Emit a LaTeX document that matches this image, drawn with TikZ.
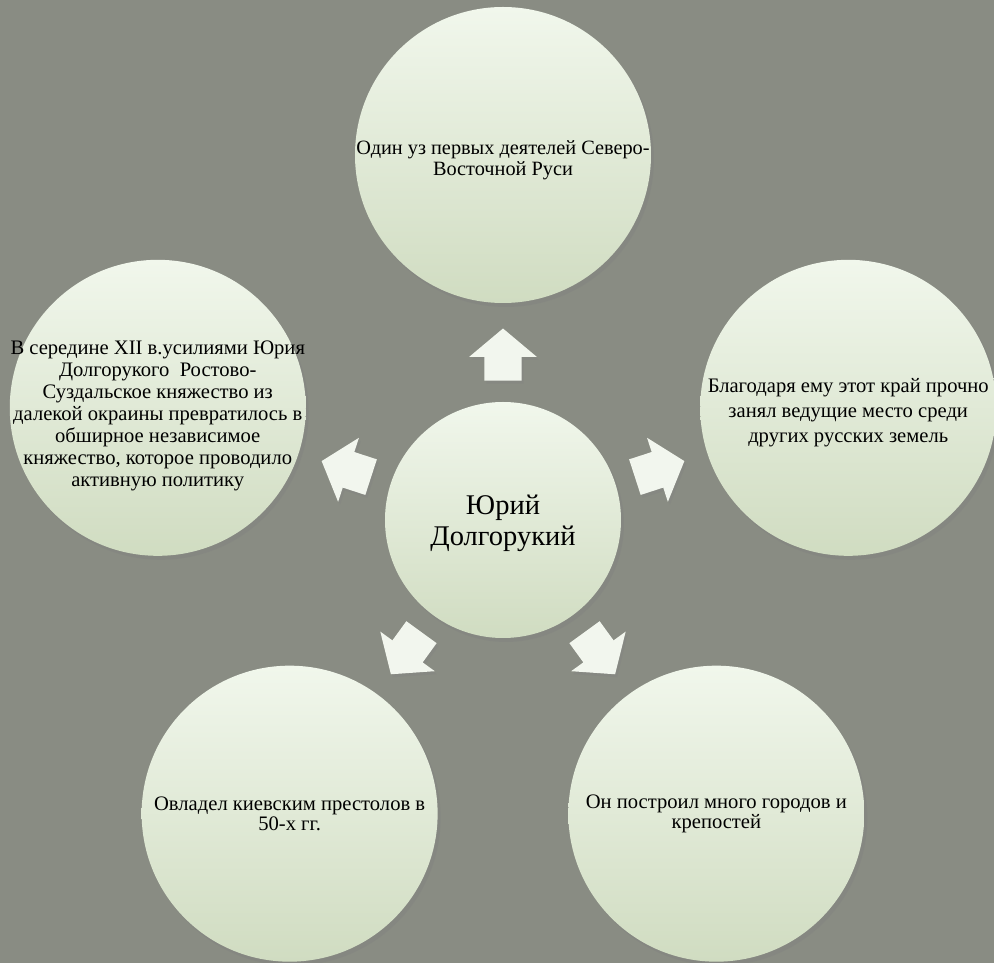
\documentclass[tikz,border=0pt]{standalone}
\usepackage{fontspec}
\setmainfont{Liberation Serif}
\usepackage{tikz}
\usetikzlibrary{positioning,shapes.arrows,shadows}
\definecolor{slate}{RGB}{137,140,131}
\definecolor{sagetop}{RGB}{241,247,236}
\definecolor{sagebot}{RGB}{208,220,193}
\definecolor{chalk}{RGB}{242,246,238}

\begin{document}
\begin{tikzpicture}[topic/.style={circle, top color=sagetop, bottom color=sagebot, minimum size=296pt, inner sep=0pt, drop shadow={shadow xshift=3pt, shadow yshift=-4pt, opacity=0.35}},
		hub/.style={topic, minimum size=236pt, align=center, font=\fontsize{28.5}{31}\selectfont},
		caption/.style={align=center, inner sep=0pt, yshift=-5pt, font=\fontsize{20.6}{22}\selectfont},
		push/.style={single arrow, fill=chalk, minimum height=52pt, single arrow head extend=15pt, single arrow tip angle=100, inner xsep=0pt, inner ysep=18.5pt, sloped, allow upside down, drop shadow={shadow xshift=2pt, shadow yshift=-3pt, opacity=0.3}}]
		\useasboundingbox (-503pt,-443pt) rectangle (491pt,520pt);
		\fill[slate] (-503pt,-443pt) rectangle (491pt,520pt);

		\node[hub, text depth=-8pt] (0) at (0,0) {Юрий\\Долгорукий};
		\node[topic] (1) at (90:365pt) {};
		\node[topic] (2) at (18:363pt) {};
		\node[topic] (3) at (162:363pt) {};
		\node[topic] (4) at (234:363pt) {};
		\node[topic] (5) at (306:363pt) {};

		\node[caption, font=\fontsize{20.3}{20.5}\selectfont] (1t) at (1) {Один уз первых деятелей Северо-\\Восточной Руси};
		\node[caption, font=\fontsize{20.6}{25}\selectfont] (2t) at (2) {Благодаря ему этот край прочно\\занял ведущие место среди\\других русских земель};
		\node[caption, yshift=-3pt] (3t) at (3) {В середине XII в.усилиями Юрия\\Долгорукого~ Ростово-\\Суздальское княжество из\\далекой окраины превратилось в\\обширное независимое\\княжество, которое проводило\\активную политику};
		\node[caption, yshift=5pt, font=\fontsize{20.6}{20.5}\selectfont] (4t) at (4) {Овладел киевским престолов в\\50-х гг.};
		\node[caption, yshift=5pt, font=\fontsize{20.6}{20.5}\selectfont] (5t) at (5) {Он построил много городов и\\крепостей};

		\path (0) -- node[push, pos=0.4] (a1) {} (1);
		\path (0) -- node[push, pos=0.4] (a2) {} (2);
		\path (0) -- node[push, pos=0.4] (a3) {} (3);
		\path (0) -- node[push, pos=0.4] (a4) {} (4);
		\path (0) -- node[push, pos=0.4] (a5) {} (5);

	\end{tikzpicture}
\end{document}
